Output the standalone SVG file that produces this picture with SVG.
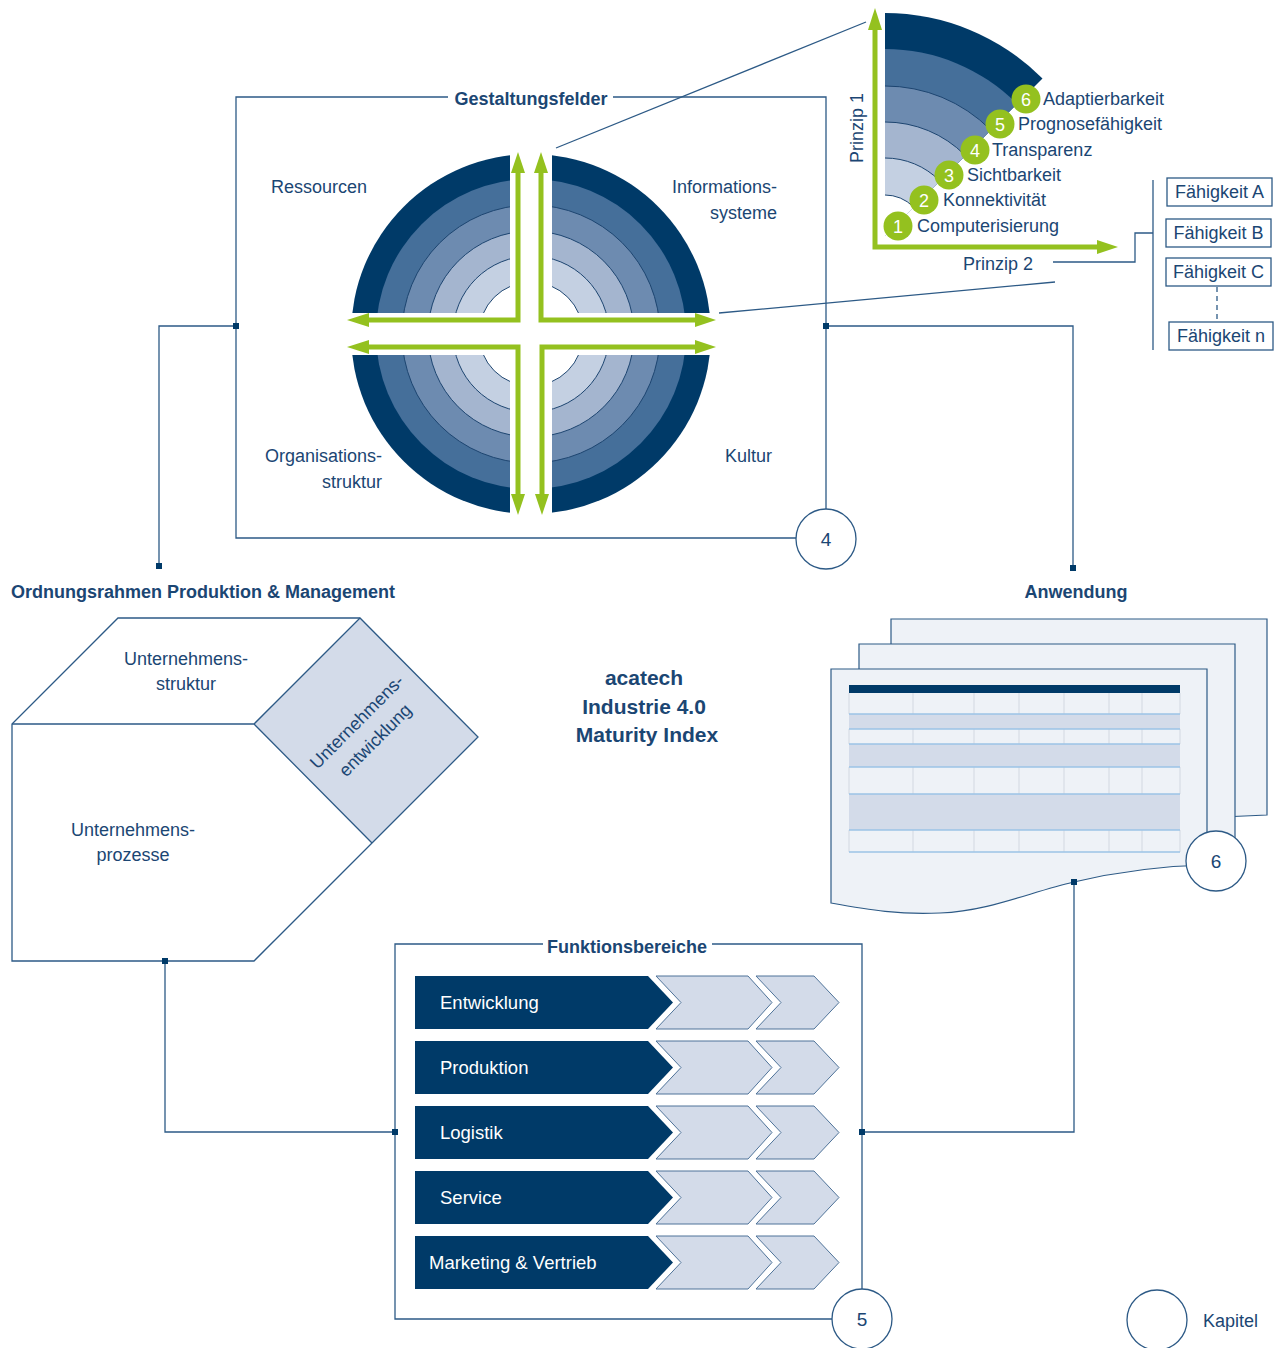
<svg xmlns="http://www.w3.org/2000/svg" width="1277" height="1348" viewBox="0 0 1277 1348">
<defs>
<style>
text{font-family:"Liberation Sans",Arial,sans-serif;fill:#1b4673}
.t{font-size:18px}
.b{font-size:18px;font-weight:bold}
.frame,.conn{fill:none;stroke:#2d5a86;stroke-width:1.3}
.dot{fill:#003a68}
.kap{fill:#fff;stroke:#2d5a86;stroke-width:1.3}
.num{font-size:19px;text-anchor:middle}
.g{fill:none;stroke:#94c11f;stroke-width:5}
.gh{fill:#94c11f}
.r1{fill:#003a68}.r2{fill:#456f9a}.r3{fill:#6d8bb0}.r4{fill:#a4b5cf}.r5{fill:#c4d0e2}
.div{fill:none;stroke:#1d4570;stroke-width:1}
.page{fill:#eef2f7;stroke:#2d5a86;stroke-width:1.2}
.chev{fill:#d3dbe9;stroke:#4f7399;stroke-width:1}
.dark{fill:#003a68}
.wt{fill:#fff;font-size:18.5px}
.gn{fill:#fff;font-size:18px;text-anchor:middle}
.box{fill:#fff;stroke:#2d5a86;stroke-width:1.3}
.col{stroke:#d8dde4;stroke-width:1.2}
.rowl{stroke:#9cc3e6;stroke-width:1.3}
.sh{fill:#d3dbe9}
</style>
<clipPath id="cross">
<rect x="340" y="140" width="170" height="173"/>
<rect x="552" y="140" width="170" height="173"/>
<rect x="340" y="355" width="170" height="170"/>
<rect x="552" y="355" width="170" height="170"/>
</clipPath>
<clipPath id="qc"><polygon points="885,0 1121,0 885,236"/></clipPath>
</defs>

<!-- Gestaltungsfelder -->
<g id="gestaltungsfelder">
<path class="frame" d="M448,97 H236 V538 H826 V97 H613"/>
<text class="b" x="531" y="105" text-anchor="middle">Gestaltungsfelder</text>
<g clip-path="url(#cross)">
<circle class="r1" cx="531" cy="334" r="180"/>
<circle class="r2" cx="531" cy="334" r="155"/>
<circle class="r3 div" cx="531" cy="334" r="129" style="fill:#6d8bb0"/>
<circle class="div" cx="531" cy="334" r="103" style="fill:#a4b5cf"/>
<circle class="div" cx="531" cy="334" r="78" style="fill:#c4d0e2"/>
<circle class="div" cx="531" cy="334" r="52" style="fill:#fff"/>
</g>
<g id="arrows">
<path class="g" d="M518,173 V320 H369"/>
<polygon class="gh" points="518,152 525,173 511,173"/>
<polygon class="gh" points="347,320 369,313 369,327"/>
<path class="g" d="M541,173 V320 H695"/>
<polygon class="gh" points="541,152 548,173 534,173"/>
<polygon class="gh" points="716,320 695,313 695,327"/>
<path class="g" d="M369,347 H518 V494"/>
<polygon class="gh" points="347,347 369,340 369,354"/>
<polygon class="gh" points="518,515 511,494 525,494"/>
<path class="g" d="M695,347 H542 V494"/>
<polygon class="gh" points="716,347 695,340 695,354"/>
<polygon class="gh" points="542,515 535,494 549,494"/>
</g>
<text class="t" x="271" y="193">Ressourcen</text>
<text class="t" x="777" y="193" text-anchor="end">Informations-</text>
<text class="t" x="777" y="219" text-anchor="end">systeme</text>
<text class="t" x="382" y="462" text-anchor="end">Organisations-</text>
<text class="t" x="382" y="488" text-anchor="end">struktur</text>
<text class="t" x="772" y="462" text-anchor="end">Kultur</text>
<circle class="kap" cx="826" cy="539" r="30"/>
<text class="num" x="826" y="546">4</text>
</g>

<!-- Reifegradstufen -->
<g id="prinzipien">
<g clip-path="url(#qc)">
<circle class="r1" cx="885" cy="235" r="222"/>
<circle class="r2" cx="885" cy="235" r="186"/>
<circle class="div" cx="885" cy="235" r="149" style="fill:#6d8bb0"/>
<circle class="div" cx="885" cy="235" r="113" style="fill:#a4b5cf"/>
<circle class="div" cx="885" cy="235" r="77" style="fill:#c4d0e2"/>
<circle class="div" cx="885" cy="235" r="40" style="fill:#fff"/>
</g>
<path class="g" d="M875,30 V247 H1097"/>
<polygon class="gh" points="875,8 882,30 868,30"/>
<polygon class="gh" points="1118,247 1097,240 1097,254"/>
<text class="t" transform="translate(863,128) rotate(-90)" text-anchor="middle">Prinzip 1</text>
<text class="t" x="963" y="270">Prinzip 2</text>
<g>
<circle class="gh" cx="898" cy="226" r="14.5"/><text class="gn" x="898" y="232.5">1</text>
<circle class="gh" cx="924" cy="200" r="14.5"/><text class="gn" x="924" y="206.5">2</text>
<circle class="gh" cx="949" cy="175" r="14.5"/><text class="gn" x="949" y="181.5">3</text>
<circle class="gh" cx="975" cy="150" r="14.5"/><text class="gn" x="975" y="156.5">4</text>
<circle class="gh" cx="1000" cy="124" r="14.5"/><text class="gn" x="1000" y="130.5">5</text>
<circle class="gh" cx="1026" cy="99" r="14.5"/><text class="gn" x="1026" y="105.5">6</text>
</g>
<text class="t" x="917" y="232">Computerisierung</text>
<text class="t" x="943" y="206">Konnektivität</text>
<text class="t" x="967" y="181">Sichtbarkeit</text>
<text class="t" x="992" y="156">Transparenz</text>
<text class="t" x="1018" y="130">Prognosefähigkeit</text>
<text class="t" x="1043" y="105">Adaptierbarkeit</text>
</g>

<!-- Faehigkeiten -->
<g id="faehigkeiten">
<rect class="box" x="1167" y="178" width="105" height="28"/>
<text class="t" x="1219.5" y="198" text-anchor="middle">Fähigkeit A</text>
<rect class="box" x="1166" y="219" width="105" height="28"/>
<text class="t" x="1218.5" y="239" text-anchor="middle">Fähigkeit B</text>
<rect class="box" x="1166" y="258" width="105" height="28"/>
<text class="t" x="1218.5" y="278" text-anchor="middle">Fähigkeit C</text>
<rect class="box" x="1169" y="322" width="104" height="28"/>
<text class="t" x="1221" y="342" text-anchor="middle">Fähigkeit n</text>
<line x1="1217" y1="287" x2="1217" y2="321" stroke="#2d5a86" stroke-width="1.3" stroke-dasharray="5,4"/>
</g>

<!-- Ordnungsrahmen -->
<g id="ordnungsrahmen">
<text class="b" x="11" y="598">Ordnungsrahmen Produktion &amp; Management</text>
<polygon points="360,618 478,737 372,843 254,724" fill="#d3dbe9"/>
<path class="frame" d="M118,618 H360 L478,737 L372,843 L254,961 H12 V724 Z"/>
<path class="frame" d="M12,724 H254 L360,618 M254,724 L372,843"/>
<text class="t" x="186" y="665" text-anchor="middle">Unternehmens-</text>
<text class="t" x="186" y="690" text-anchor="middle">struktur</text>
<text class="t" x="133" y="836" text-anchor="middle">Unternehmens-</text>
<text class="t" x="133" y="861" text-anchor="middle">prozesse</text>
<g transform="translate(366,731) rotate(-45)">
<text class="t" x="0" y="-7" text-anchor="middle">Unternehmens-</text>
<text class="t" x="0" y="19" text-anchor="middle">entwicklung</text>
</g>
</g>

<!-- Titel -->
<g id="titel">
<text x="644" y="685" text-anchor="middle" font-size="21" font-weight="bold">acatech</text>
<text x="644" y="714" text-anchor="middle" font-size="21" font-weight="bold">Industrie 4.0</text>
<text x="647" y="742" text-anchor="middle" font-size="21" font-weight="bold">Maturity Index</text>
</g>

<!-- Anwendung -->
<g id="anwendung">
<text class="b" x="1076" y="598" text-anchor="middle">Anwendung</text>
<path class="page" transform="translate(60,-50)" d="M831,669 H1207 V865 C1160,866 1120,871 1074,882 C1030,892 990,911 940,913 C900,915 870,910 831,903 Z"/>
<path class="page" transform="translate(28,-25)" d="M831,669 H1207 V865 C1160,866 1120,871 1074,882 C1030,892 990,911 940,913 C900,915 870,910 831,903 Z"/>
<path class="page" d="M831,669 H1207 V865 C1160,866 1120,871 1074,882 C1030,892 990,911 940,913 C900,915 870,910 831,903 Z"/>
<rect class="sh" x="849" y="714" width="331" height="15"/>
<rect class="sh" x="849" y="744" width="331" height="23"/>
<rect class="sh" x="849" y="794" width="331" height="36"/>
<g class="col">
<path d="M849,693 V714 M913,693 V714 M974,693 V714 M1019,693 V714 M1064,693 V714 M1109,693 V714 M1142,693 V714 M1180,693 V714"/>
<path d="M849,729 V744 M913,729 V744 M974,729 V744 M1019,729 V744 M1064,729 V744 M1109,729 V744 M1142,729 V744 M1180,729 V744"/>
<path d="M849,767 V794 M913,767 V794 M974,767 V794 M1019,767 V794 M1064,767 V794 M1109,767 V794 M1142,767 V794 M1180,767 V794"/>
<path d="M849,830 V852 M913,830 V852 M974,830 V852 M1019,830 V852 M1064,830 V852 M1109,830 V852 M1142,830 V852 M1180,830 V852"/>
</g>
<path class="rowl" d="M849,714 H1180 M849,729 H1180 M849,744 H1180 M849,767 H1180 M849,794 H1180 M849,830 H1180 M849,852 H1180"/>
<rect class="dark" x="849" y="685" width="331" height="8"/>
<circle class="kap" cx="1216" cy="861" r="30"/>
<text class="num" x="1216" y="868">6</text>
</g>

<!-- Funktionsbereiche -->
<g id="funktionsbereiche">
<path class="frame" d="M543,944 H395 V1319 H862 V944 H712"/>
<text class="b" x="627" y="953" text-anchor="middle">Funktionsbereiche</text>
<g id="row-entwicklung">
<path class="dark" d="M415,976 H648 L673,1002.5 L648,1029 H415 Z"/>
<path class="chev" d="M656,976 H748 L772,1002.5 L748,1029 H656 L681,1002.5 Z"/>
<path class="chev" d="M756,976 H814 L839,1002.5 L814,1029 H756 L781,1002.5 Z"/>
<text class="wt" x="440" y="1009">Entwicklung</text>
</g>
<g id="row-produktion">
<path class="dark" d="M415,1041 H648 L673,1067.5 L648,1094 H415 Z"/>
<path class="chev" d="M656,1041 H748 L772,1067.5 L748,1094 H656 L681,1067.5 Z"/>
<path class="chev" d="M756,1041 H814 L839,1067.5 L814,1094 H756 L781,1067.5 Z"/>
<text class="wt" x="440" y="1074">Produktion</text>
</g>
<g id="row-logistik">
<path class="dark" d="M415,1106 H648 L673,1132.5 L648,1159 H415 Z"/>
<path class="chev" d="M656,1106 H748 L772,1132.5 L748,1159 H656 L681,1132.5 Z"/>
<path class="chev" d="M756,1106 H814 L839,1132.5 L814,1159 H756 L781,1132.5 Z"/>
<text class="wt" x="440" y="1139">Logistik</text>
</g>
<g id="row-service">
<path class="dark" d="M415,1171 H648 L673,1197.5 L648,1224 H415 Z"/>
<path class="chev" d="M656,1171 H748 L772,1197.5 L748,1224 H656 L681,1197.5 Z"/>
<path class="chev" d="M756,1171 H814 L839,1197.5 L814,1224 H756 L781,1197.5 Z"/>
<text class="wt" x="440" y="1204">Service</text>
</g>
<g id="row-marketing">
<path class="dark" d="M415,1236 H648 L673,1262.5 L648,1289 H415 Z"/>
<path class="chev" d="M656,1236 H748 L772,1262.5 L748,1289 H656 L681,1262.5 Z"/>
<path class="chev" d="M756,1236 H814 L839,1262.5 L814,1289 H756 L781,1262.5 Z"/>
<text class="wt" x="429" y="1269">Marketing &amp; Vertrieb</text>
</g>
<circle class="kap" cx="862" cy="1319" r="30"/>
<text class="num" x="862" y="1326">5</text>
</g>

<!-- Legende -->
<g id="legende">
<circle class="kap" cx="1157" cy="1320" r="30"/>
<text class="t" x="1203" y="1327">Kapitel</text>
</g>

<!-- Connectors -->
<g id="connectors">
<path class="conn" d="M556,148 L866,22"/>
<path class="conn" d="M719,313 L1055,282"/>
<path class="conn" d="M1053,262 H1135 V233 H1153"/>
<path class="conn" d="M1153,180 V350"/>
<path class="conn" d="M236,326 H159 V566"/>
<path class="conn" d="M826,326 H1073 V568"/>
<path class="conn" d="M165,961 V1132 H395"/>
<path class="conn" d="M862,1132 H1074 V882"/>
<rect class="dot" x="233" y="323" width="6" height="6"/>
<rect class="dot" x="156" y="563" width="6" height="6"/>
<rect class="dot" x="823" y="323" width="6" height="6"/>
<rect class="dot" x="1070" y="565" width="6" height="6"/>
<rect class="dot" x="162" y="958" width="6" height="6"/>
<rect class="dot" x="392" y="1129" width="6" height="6"/>
<rect class="dot" x="859" y="1129" width="6" height="6"/>
<rect class="dot" x="1071" y="879" width="6" height="6"/>
</g>
</svg>
